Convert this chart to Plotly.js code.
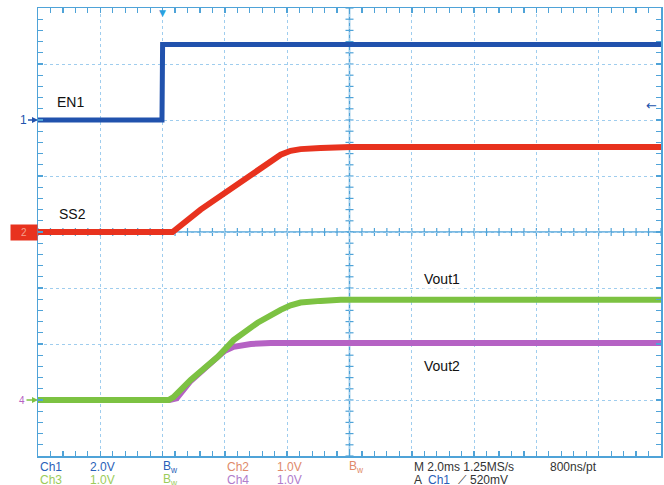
<!DOCTYPE html>
<html>
<head>
<meta charset="utf-8">
<script src="https://cdn.plot.ly/plotly-3.0.1.min.js"></script>
<style>html,body{margin:0;padding:0;background:#fff;}#chart{width:664px;height:485px;}</style>
</head>
<body>
<div id="chart"></div>
<script>
// ---- Data (time in ms, trigger at 0; values in volts) ----
const tEN1 = [-4, -0.02, 0.0, 16];
const vEN1 = [0, 0, 2.7, 2.7];

const tSS2 = [-4, 0.32, 1.22, 2.50, 2.83, 3.15, 3.47, 3.79, 4.11, 4.43, 5.07, 6.04, 16];
const vSS2 = [0, 0, 0.40, 0.89, 1.04, 1.16, 1.28, 1.38, 1.45, 1.48, 1.50, 1.52, 1.52];

const tVout1 = [-4, 0.19, 0.35, 0.90, 1.77, 2.28, 3.05, 3.47, 3.79, 4.11, 4.43, 5.07, 5.71, 16];
const vVout1 = [0, 0, 0.05, 0.36, 0.77, 1.07, 1.38, 1.52, 1.61, 1.69, 1.74, 1.77, 1.79, 1.79];

const tVout2 = [-4, 0.22, 0.45, 0.90, 1.77, 2.0, 2.28, 2.56, 2.83, 3.47, 16];
const vVout2 = [0, 0, 0.03, 0.34, 0.77, 0.88, 0.95, 0.98, 1.00, 1.02, 1.02];

const traceNames = ["EN1", "SS2", "Vout1", "Vout2"];
const row1Labels = ["Ch1", "2.0V", "Ch2", "1.0V", "M 2.0ms 1.25MS/s", "800ns/pt"];
const row2Labels = ["Ch3", "1.0V", "Ch4", "1.0V", "520mV"];

// ---- Styling ----
const FRAME = "#4fa3d8";
const GRID = "#9fcdee";
const C_BLUE = "#2152ad";
const C_RED = "#e8321e";
const C_GREEN = "#7cc242";
const C_PURPLE = "#b562c4";
const FONT = "Liberation Sans, Arial, sans-serif";

const L = 38, W = 623;
const P = px => (px - L) / W;

const traces = [
  {x: tEN1, y: vEN1, yaxis: "y2", mode: "lines", name: traceNames[0], line: {color: C_BLUE, width: 5}},
  {x: tSS2, y: vSS2, yaxis: "y3", mode: "lines", name: traceNames[1], line: {color: C_RED, width: 6}},
  {x: tVout2, y: vVout2, yaxis: "y4", mode: "lines", name: traceNames[3], line: {color: C_PURPLE, width: 6}},
  {x: tVout1, y: vVout1, yaxis: "y4", mode: "lines", name: traceNames[2], line: {color: C_GREEN, width: 6}}
];

// ---- graticule centre cross (decoration) ----
const shapes = [
  {type: "line", xref: "x", yref: "y", x0: -4, x1: 16, y0: 0, y1: 0, line: {color: FRAME, width: 1.5}, layer: "below"},
  {type: "line", xref: "x", yref: "y", x0: 6, x1: 6, y0: -4, y1: 4, line: {color: FRAME, width: 1.5}, layer: "below"}
];
for (let k = 0; k <= 50; k++) {
  shapes.push({type: "line", xref: "x", yref: "y", ysizemode: "pixel", yanchor: 0,
    x0: -4 + k * 0.4, x1: -4 + k * 0.4, y0: -4, y1: 4, line: {color: FRAME, width: 1.2}, layer: "below"});
}
for (let k = 0; k <= 40; k++) {
  shapes.push({type: "line", xref: "x", yref: "y", xsizemode: "pixel", xanchor: 6,
    y0: -4 + k * 0.2, y1: -4 + k * 0.2, x0: -4, x1: 4, line: {color: FRAME, width: 1.2}, layer: "below"});
}

function txt(px, yshift, text, color) {
  return {xref: "paper", yref: "paper", x: P(px), y: 0, xanchor: "left", yanchor: "middle",
    yshift: yshift, text: text, showarrow: false, font: {family: FONT, size: 12, color: color}};
}

const annotations = [
  {x: -2.95, y: 2.33, text: "EN1", showarrow: false, bgcolor: "#fff", font: {family: FONT, size: 14, color: "#111"}},
  {x: -2.89, y: 0.32, text: "SS2", showarrow: false, bgcolor: "#fff", font: {family: FONT, size: 14, color: "#111"}},
  {x: 8.96, y: -0.84, text: "Vout1", showarrow: false, bgcolor: "#fff", font: {family: FONT, size: 14, color: "#111"}},
  {x: 8.96, y: -2.40, text: "Vout2", showarrow: false, bgcolor: "#fff", font: {family: FONT, size: 14, color: "#111"}},
  // ground markers
  {x: -4, y: 2, text: "1", showarrow: true, ax: -15, ay: 0, arrowhead: 2, arrowsize: 0.8, arrowwidth: 1.5,
   arrowcolor: C_BLUE, font: {family: FONT, size: 12, color: C_BLUE}},
  {xref: "paper", x: 0, y: 0, xanchor: "right", text: "2", showarrow: false, bgcolor: C_RED,
   width: 24, height: 13, font: {family: FONT, size: 10, color: "#f5a090"}},
  {x: -4, y: -3, text: "4", showarrow: true, ax: -16, ay: 0, arrowhead: 2, arrowsize: 0.8, arrowwidth: 1.5,
   arrowcolor: C_GREEN, font: {family: FONT, size: 10, color: C_PURPLE}},
  // trigger level arrow (right)
  {x: 15.7, y: 2.26, text: "←", showarrow: false, xanchor: "center",
   font: {family: "DejaVu Sans", size: 13, color: C_BLUE}},
  // trigger position marker (top)
  {x: 0, yref: "paper", y: 1, yanchor: "top", yshift: 2, text: "▼", showarrow: false,
   font: {family: "DejaVu Sans", size: 9, color: "#2aa0e0"}},
  // bottom readout row 1
  txt(38, -11, row1Labels[0], "#2a5fb8"),
  txt(88, -11, row1Labels[1], "#2a5fb8"),
  txt(161, -11, "B<sub>w</sub>", "#2a5fb8"),
  txt(225, -11, row1Labels[2], "#e08a6a"),
  txt(275, -11, row1Labels[3], "#e08a6a"),
  txt(347, -11, "B<sub>w</sub>", "#e08a6a"),
  txt(412, -11, row1Labels[4], "#333"),
  txt(548, -11, row1Labels[5], "#333"),
  // row 2
  txt(38, -24, row2Labels[0], "#9ccc5a"),
  txt(88, -24, row2Labels[1], "#9ccc5a"),
  txt(161, -24, "B<sub>w</sub>", "#9ccc5a"),
  txt(225, -24, row2Labels[2], "#b07ccc"),
  txt(275, -24, row2Labels[3], "#b07ccc"),
  txt(412, -24, "A", "#333"),
  txt(426, -24, "Ch1", "#2a5fb8"),
  txt(456, -24, "⟋", "#333"),
  txt(468, -24, row2Labels[4], "#333")
];

const layout = {
  width: 664, height: 485,
  margin: {l: 38, r: 3, t: 8, b: 29, pad: 0},
  paper_bgcolor: "#fff", plot_bgcolor: "#fff",
  showlegend: false,
  xaxis: {
    range: [-4, 16], dtick: 2, tick0: 0,
    showgrid: true, gridcolor: GRID, gridwidth: 1, griddash: "dot",
    showline: true, linecolor: FRAME, linewidth: 1.5, mirror: "allticks",
    ticks: "inside", ticklen: 5, tickcolor: FRAME, tickwidth: 1.5,
    minor: {dtick: 0.4, tick0: 0, ticks: "inside", ticklen: 5, tickcolor: FRAME, tickwidth: 1.2},
    zeroline: false, showticklabels: false
  },
  yaxis: {
    range: [-4, 4], dtick: 1, tick0: 0,
    showgrid: true, gridcolor: GRID, gridwidth: 1, griddash: "dot",
    showline: true, linecolor: FRAME, linewidth: 1.5, mirror: "allticks",
    ticks: "inside", ticklen: 5, tickcolor: FRAME, tickwidth: 1.5,
    minor: {dtick: 0.2, tick0: 0, ticks: "inside", ticklen: 5, tickcolor: FRAME, tickwidth: 1.2},
    zeroline: false, showticklabels: false
  },
  yaxis2: {overlaying: "y", range: [-12, 4], visible: false},
  yaxis3: {overlaying: "y", range: [-4, 4], visible: false},
  yaxis4: {overlaying: "y", range: [-1, 7], visible: false},
  shapes: shapes,
  annotations: annotations
};

Plotly.newPlot("chart", traces, layout, {staticPlot: true, displayModeBar: false});
</script>
</body>
</html>
